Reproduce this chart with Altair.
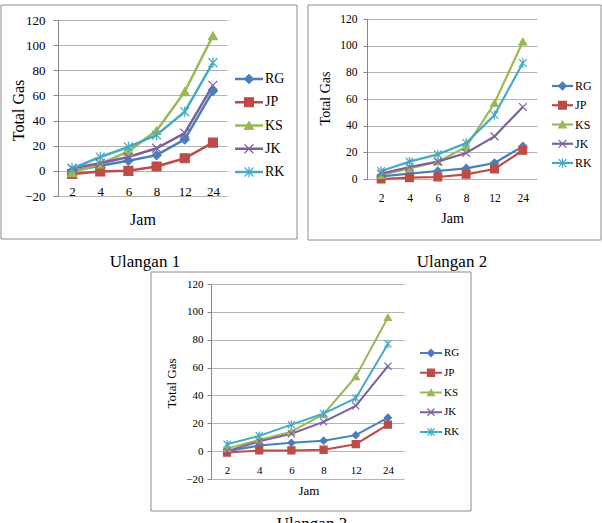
import altair as alt
import pandas as pd

FONT = "'Liberation Serif', 'Times New Roman', Times, serif"

jam = ['2', '4', '6', '8', '12', '24']
series = ['RG', 'JP', 'KS', 'JK', 'RK']
colors = ['#4A7EBB', '#BE4B48', '#98B954', '#7D60A0', '#46AAC5']
shapes = ['diamond', 'square', 'triangle-up',
          'M-1,-1L1,1M-1,1L1,-1',
          'M-1,-1L1,1M-1,1L1,-1M0,-1.2L0,1.2']
y_ticks_a = [-20, 0, 20, 40, 60, 80, 100, 120]
y_ticks_b = [0, 20, 40, 60, 80, 100, 120]

# Ulangan 1
u1_RG = [0, 4, 8, 12.5, 25, 63.5]
u1_JP = [-2.5, -0.5, 0, 3.5, 10, 22.5]
u1_KS = [-1.5, 5.5, 15.5, 32, 63, 107.5]
u1_JK = [2, 6, 11, 18, 30, 68]
u1_RK = [2, 11, 19, 28.5, 47, 86]

# Ulangan 2
u2_RG = [2, 4, 6, 8, 12, 24.5]
u2_JP = [0, 1, 1.5, 3.5, 7.5, 21.5]
u2_KS = [3, 8, 13, 24, 57, 103]
u2_JK = [4, 9, 13, 19.5, 32, 54]
u2_RK = [6, 13, 18.5, 27, 48, 87]

# Ulangan 3
u3_RG = [0, 4, 6, 7.5, 11.5, 24]
u3_JP = [-1, 0.5, 0.5, 1, 5, 19]
u3_KS = [2, 8, 14, 26.5, 53.5, 96]
u3_JK = [0, 7, 12.5, 21, 32.5, 61]
u3_RK = [5, 11, 19, 27, 38, 77]

captions = ['Ulangan 1', 'Ulangan 2', 'Ulangan 3']

W, H = 602, 523
color_scale = alt.Scale(domain=series, range=colors)
shape_scale = alt.Scale(domain=series, range=shapes)


def panel(vals, caption, c):
    rows = []
    for s, arr in zip(series, vals):
        for j, v in zip(jam, arr):
            rows.append({'Jam': j, 'Series': s, 'Total Gas': v})
    df = pd.DataFrame(rows)

    x0, x1 = c['xr']
    y_top, y_bot = c['yr']
    zero_y = y_bot - (y_bot - y_top) * (0 - c['ymin']) / (120 - c['ymin'])

    x = alt.X('Jam:O', sort=jam,
              scale=alt.Scale(type='point', padding=0.5, range=[x0, x1]),
              axis=alt.Axis(title='Jam', orient='bottom', grid=False, domain=False,
                            ticks=False, tickSize=0, labelAngle=0,
                            labelFont=FONT, labelFontSize=c['tfs'], labelPadding=c['xlp'],
                            offset=-(H - zero_y), titleFont=FONT, titleFontSize=c['ttl'],
                            titleFontWeight='normal', titleX=(x0 + x1) / 2 + c['xtdx'],
                            titleY=c['xty'], titleBaseline='middle', titleAlign='center',
                            labelColor='black', titleColor='black'))
    y = alt.Y('Total Gas:Q',
              scale=alt.Scale(domain=[c['ymin'], 120], nice=False, zero=False,
                              range=[y_bot, y_top]),
              axis=alt.Axis(title='Total Gas', orient='left', offset=-x0, values=c['yv'],
                            grid=True, gridColor='#b4b4b4',
                            domainColor='#868686', tickColor='#868686', tickSize=c['ts'],
                            labelPadding=c['ylp'], labelFont=FONT, labelFontSize=c['tfs'],
                            labelColor='black', titleFont=FONT,
                            titleFontSize=c['ttl'], titleFontWeight='normal', titleAngle=270,
                            titleX=c['ytx'], titleY=c['yty'], titleBaseline='middle',
                            titleAlign='center', titleColor='black'))

    base = alt.Chart(df)
    lines = base.mark_line(strokeWidth=c['lw']).encode(
        x=x, y=y, color=alt.Color('Series:N', scale=color_scale, legend=None))
    points = base.mark_point(filled=True, opacity=1, size=c['ms'], strokeWidth=1.2).encode(
        x=x, y=y,
        fill=alt.Fill('Series:N', scale=color_scale, legend=None),
        stroke=alt.Stroke('Series:N', scale=color_scale, legend=None),
        shape=alt.Shape('Series:N', scale=shape_scale, legend=None))

    one = pd.DataFrame({'caption': [caption]})
    frame = alt.Chart(one).mark_rect(fill='white', fillOpacity=0, stroke='#8c8c8c',
                                     strokeWidth=1).encode(
        x=alt.value(c['fx'][0]), x2=alt.value(c['fx'][1]),
        y=alt.value(c['fy'][0]), y2=alt.value(c['fy'][1]))
    cap = alt.Chart(one).mark_text(fontSize=17, font=FONT, color='black',
                                   baseline='middle', align='center').encode(
        text='caption:N', x=alt.value(c['cap'][0]), y=alt.value(c['cap'][1]))

    leg_df = pd.DataFrame({'Series': series})
    ly = alt.Y('Series:N', sort=series,
               scale=alt.Scale(type='point', domain=series, range=c['ly'], padding=0),
               axis=None)
    lbase = alt.Chart(leg_df)
    lrule = lbase.mark_rule(strokeWidth=c['lw']).encode(
        x=alt.value(c['lx'][0]), x2=alt.value(c['lx'][1]), y=ly,
        color=alt.Color('Series:N', scale=color_scale, legend=None))
    lpt = lbase.mark_point(filled=True, opacity=1, size=c['ms'], strokeWidth=1.2).encode(
        x=alt.value((c['lx'][0] + c['lx'][1]) / 2), y=ly,
        fill=alt.Fill('Series:N', scale=color_scale, legend=None),
        stroke=alt.Stroke('Series:N', scale=color_scale, legend=None),
        shape=alt.Shape('Series:N', scale=shape_scale, legend=None))
    ltxt = lbase.mark_text(align='left', baseline='middle', font=FONT,
                           fontSize=c['lfs'], color='black').encode(
        x=alt.value(c['lx'][1] + 2), y=ly, text='Series:N')

    return alt.layer(
        alt.layer(frame, lines, points, cap),
        alt.layer(lrule, lpt, ltxt)
    ).resolve_scale(y='independent')


cfg1 = dict(xr=(58, 227), yr=(20, 196), ymin=-20, yv=y_ticks_a, tfs=13, ttl=16, lfs=14,
            ts=5, ylp=8, xlp=15, xty=49, xtdx=0, ytx=-40, yty=110, lw=2.5, ms=80,
            fx=(1, 297), fy=(5, 239), cap=(145, 262), ly=[79, 172], lx=(235, 263))
cfg2 = dict(xr=(367, 537), yr=(19, 179), ymin=0, yv=y_ticks_b, tfs=11.5, ttl=14, lfs=12,
            ts=4, ylp=6, xlp=13, xty=39, xtdx=0, ytx=-42, yty=98, lw=2.2, ms=60,
            fx=(308, 601), fy=(5, 240), cap=(452, 262), ly=[86, 163], lx=(552, 573))
cfg3 = dict(xr=(211, 404), yr=(284, 479), ymin=-20, yv=y_ticks_a, tfs=11, ttl=13, lfs=11,
            ts=4, ylp=4, xlp=13, xty=39, xtdx=1, ytx=-40, yty=383, lw=2.0, ms=50,
            fx=(151, 471), fy=(272, 511), cap=(312, 524), ly=[353, 432], lx=(420, 442))

p1 = panel([u1_RG, u1_JP, u1_KS, u1_JK, u1_RK], captions[0], cfg1)
p2 = panel([u2_RG, u2_JP, u2_KS, u2_JK, u2_RK], captions[1], cfg2)
p3 = panel([u3_RG, u3_JP, u3_KS, u3_JK, u3_RK], captions[2], cfg3)

chart = alt.layer(p1, p2, p3).resolve_scale(
    x='independent', y='independent'
).properties(
    width=W, height=H, padding=0,
    autosize=alt.AutoSizeParams(type='none')
).configure_view(strokeWidth=0).configure_axis(
    labelFont=FONT, titleFont=FONT
).configure_text(font=FONT)

chart.save("out.html", embed_options={"renderer": "svg", "actions": False})
